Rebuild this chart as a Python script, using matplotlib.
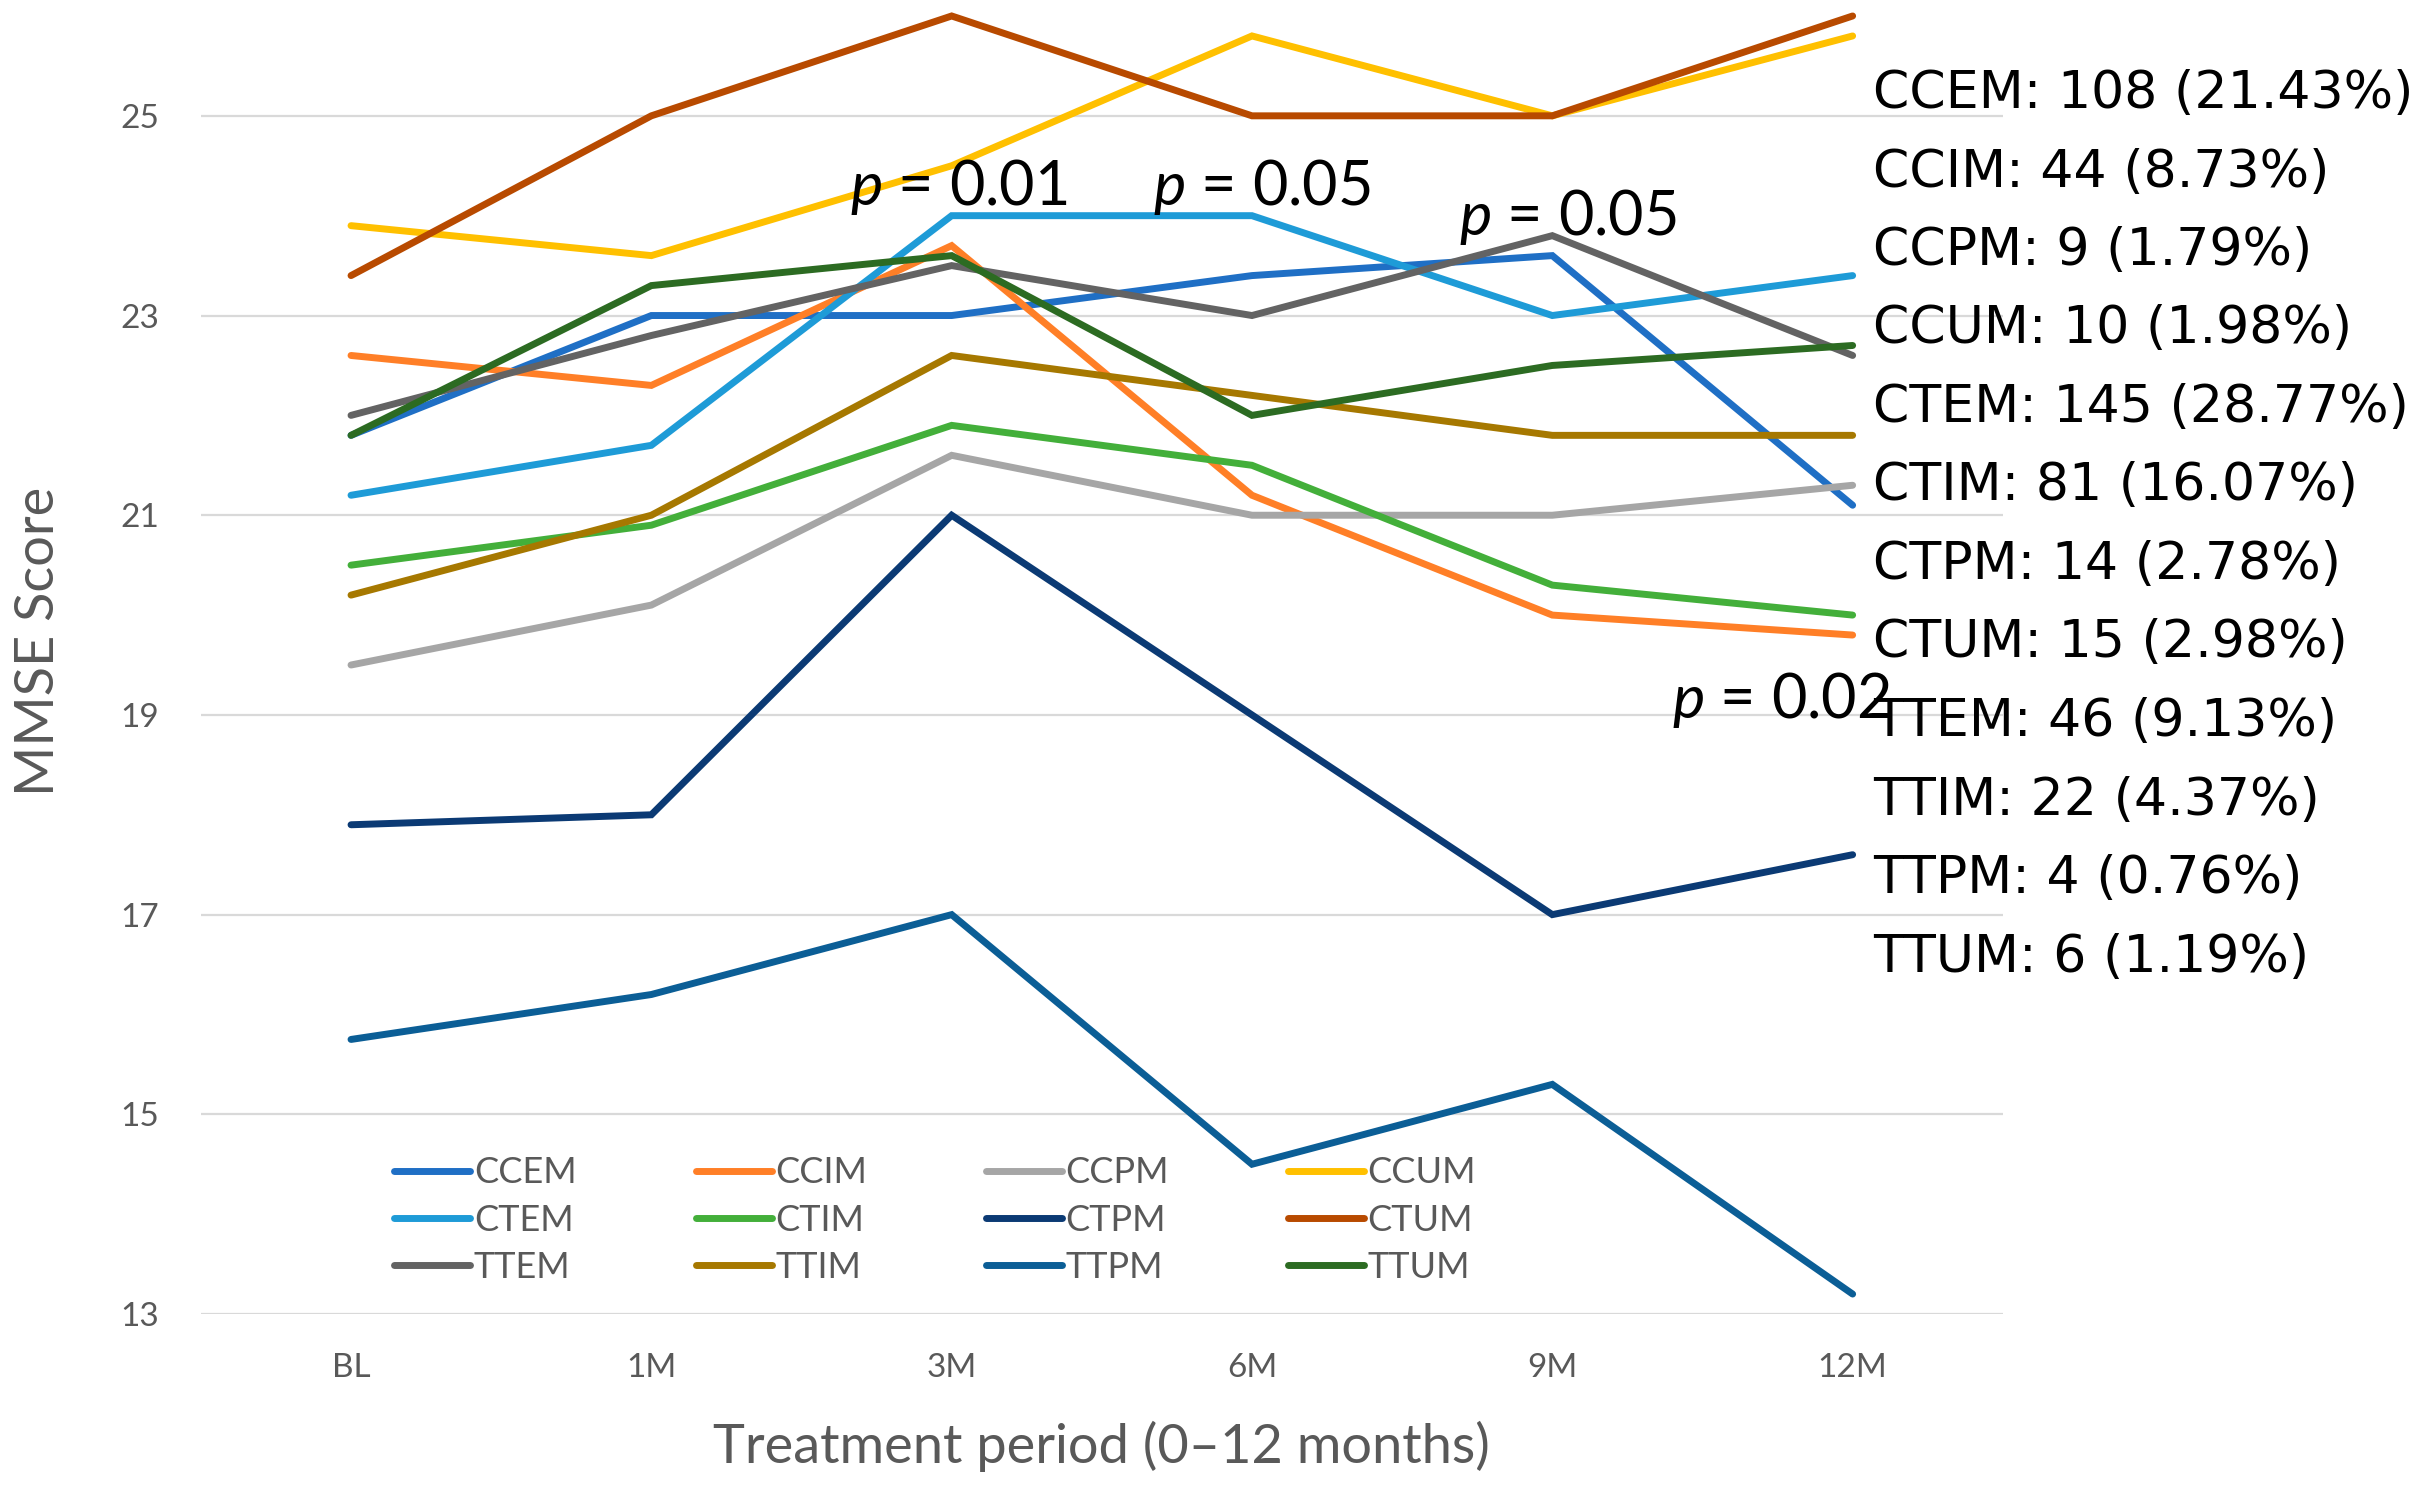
import matplotlib
matplotlib.use("Agg")
import matplotlib.pyplot as plt

periods = ["BL", "1M", "3M", "6M", "9M", "12M"]

groups = ["CCEM", "CCIM", "CCPM", "CCUM",
          "CTEM", "CTIM", "CTPM", "CTUM",
          "TTEM", "TTIM", "TTPM", "TTUM"]

ccem = [21.8, 23.0, 23.0, 23.4, 23.6, 21.1]
ccim = [22.6, 22.3, 23.7, 21.2, 20.0, 19.8]
ccpm = [19.5, 20.1, 21.6, 21.0, 21.0, 21.3]
ccum = [23.9, 23.6, 24.5, 25.8, 25.0, 25.8]
ctem = [21.2, 21.7, 24.0, 24.0, 23.0, 23.4]
ctim = [20.5, 20.9, 21.9, 21.5, 20.3, 20.0]
ctpm = [17.9, 18.0, 21.0, 19.0, 17.0, 17.6]
ctum = [23.4, 25.0, 26.0, 25.0, 25.0, 26.0]
ttem = [22.0, 22.8, 23.5, 23.0, 23.8, 22.6]
ttim = [20.2, 21.0, 22.6, 22.2, 21.8, 21.8]
ttpm = [15.75, 16.2, 17.0, 14.5, 15.3, 13.2]
ttum = [21.8, 23.3, 23.6, 22.0, 22.5, 22.7]

series = [ccem, ccim, ccpm, ccum, ctem, ctim, ctpm, ctum, ttem, ttim, ttpm, ttum]

colors = ["#1F6FC5", "#FF7F27", "#A6A6A6", "#FFC000",
          "#1E9BD7", "#43AF3A", "#0B3A74", "#B84A00",
          "#636363", "#A67800", "#0B5E96", "#2C6B22"]

counts = ["108 (21.43%)", "44 (8.73%)", "9 (1.79%)", "10 (1.98%)",
          "145 (28.77%)", "81 (16.07%)", "14 (2.78%)", "15 (2.98%)",
          "46 (9.13%)", "22 (4.37%)", "4 (0.76%)", "6 (1.19%)"]

# p-value notes: (text, x in category units, y baseline)
p_notes = [("0.01", 1.66, 24.11), ("0.05", 2.67, 24.11),
           ("0.05", 3.69, 23.81), ("0.02", 4.40, 18.97)]

plt.rcParams["font.family"] = ["Lato", "DejaVu Sans"]
plt.rcParams["mathtext.fontset"] = "custom"
plt.rcParams["mathtext.it"] = "Lato:italic"
plt.rcParams["mathtext.rm"] = "Lato"

fig = plt.figure(figsize=(24.2, 14.9), dpi=100)
ax = fig.add_axes([0.083, 0.1181, 0.7446, 0.8819])

x = list(range(len(periods)))
handles = []
for name, vals, c in zip(groups, series, colors):
    h, = ax.plot(x, vals, color=c, lw=5, label=name, solid_capstyle="round",
                 solid_joinstyle="miter", clip_on=False, zorder=3)
    handles.append(h)

ax.set_xlim(-0.5, 5.5)
ax.set_ylim(13, 26.16)
ax.set_yticks([13, 15, 17, 19, 21, 23, 25])
ax.set_xticks(x)
ax.set_xticklabels(periods)
ax.grid(axis="y", color="#D9D9D9", lw=1.6, zorder=0)
ax.set_axisbelow(True)
for s in ax.spines.values():
    s.set_visible(False)
ax.tick_params(length=0, labelsize=24, labelcolor="#595959")
ax.tick_params(axis="x", pad=28)
ax.tick_params(axis="y", pad=30)

ax.set_xlabel("Treatment period (0\u201312 months)", fontsize=39, color="#595959",
              va="center")
ax.xaxis.set_label_coords(0.5, -0.101)
ax.set_ylabel("MMSE Score", fontsize=39, color="#595959", va="center")
ax.yaxis.set_label_coords(-0.09, 0.512)

for txt, px, py in p_notes:
    ax.text(px, py, "$p$ = " + txt, fontsize=44, color="black",
            ha="left", va="baseline", zorder=5)

# legend laid out row by row like the original
order = [0, 4, 8, 1, 5, 9, 2, 6, 10, 3, 7, 11]
leg = fig.legend([handles[i] for i in order], [groups[i] for i in order],
                 ncol=4, loc="upper left", bbox_to_anchor=(0.163, 0.224),
                 frameon=False, fontsize=26, handlelength=2.1,
                 handletextpad=0.1, columnspacing=3.3, labelspacing=0.4,
                 borderpad=0, borderaxespad=0)
for t in leg.get_texts():
    t.set_color("#595959")

for i, (name, cnt) in enumerate(zip(groups, counts)):
    fig.text(0.774, 1 - (94 + i * 78.5) / 1490, name + ": " + cnt,
             fontsize=37.5, family="DejaVu Sans", color="black",
             ha="left", va="center")

fig.savefig("out.png", dpi=100)
